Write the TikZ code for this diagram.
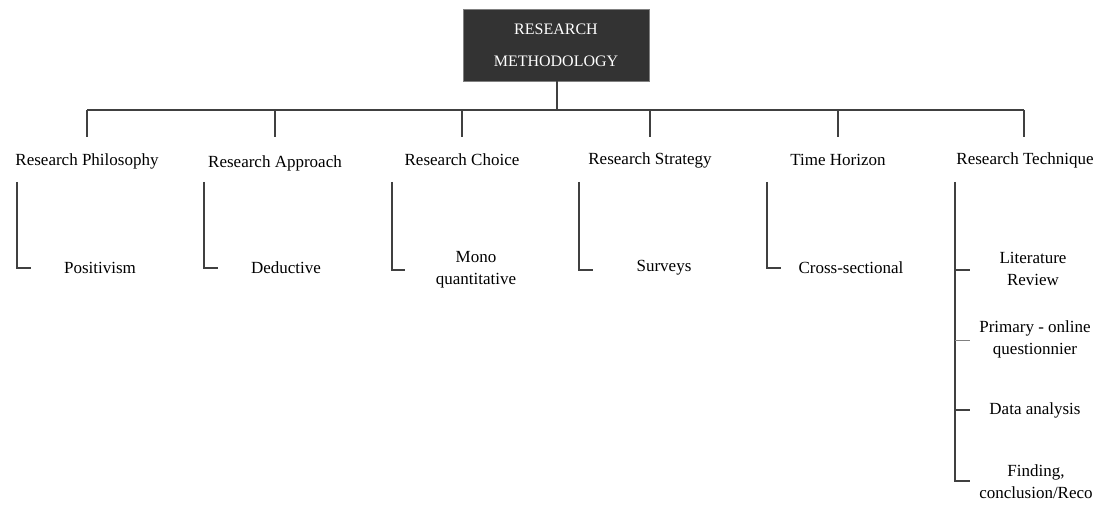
\documentclass[tikz,border=0pt]{standalone}
\usepackage{fontspec}
\setmainfont{Liberation Serif}
\definecolor{linec}{HTML}{404040}
\definecolor{boxc}{HTML}{333333}
\definecolor{thinc}{HTML}{808080}
\begin{document}
\begin{tikzpicture}[x=1pt,y=-1pt,
  conn/.style={draw=linec,line width=1.6pt},
  thin/.style={draw=thinc,line width=1pt},
  cat/.style={inner sep=0pt,font=\fontsize{17}{20}\selectfont,anchor=center},
  leaf/.style={inner sep=0pt,font=\fontsize{17}{22}\selectfont,align=center,anchor=center},
  topbox/.style={fill=boxc,draw=gray,line width=0.6pt,minimum width=186pt,minimum height=72pt,
     text=white,align=center,font=\fontsize{16}{32}\selectfont}]
\useasboundingbox (0,0) rectangle (1105,505);
\node[topbox] (top) at (556,45) {RESEARCH\\METHODOLOGY};
\coordinate (bus) at (557,110);
\foreach \n/\x in {c1/87,c2/275,c3/462,c4/650,c5/838,c6/1024}{
  \coordinate (\n d) at (\x,137);
  \coordinate (\n b) at (\x,110);
}
\draw[conn] (top.south -| bus) -- (bus);
\draw[conn] (c1b) -- (c6b);
\foreach \n in {c1,c2,c3,c4,c5,c6}{\draw[conn] (\n b) -- (\n d);}
\node[cat] (c1) at (87,161) {Research Philosophy};
\node[cat] (c2) at (275,163) {Research Approach};
\node[cat] (c3) at (462,160) {Research Choice};
\node[cat] (c4) at (650,160) {Research Strategy};
\node[cat] (c5) at (838,160) {Time Horizon};
\node[cat] (c6) at (1025,160) {Research Technique};
% leaves
\node[leaf] (l1) at (100,268) {Positivism};
\node[leaf] (l2) at (286,268) {Deductive};
\node[leaf] (l3) at (476,270) {Mono\\quantitative};
\node[leaf] (l4) at (664,268) {Surveys};
\node[leaf] (l5) at (851,268) {Cross-sectional};
\node[leaf] (t1) at (1033,269) {Literature\\Review};
\node[leaf] (t2) at (1035,339) {Primary - online\\questionnier};
\node[leaf] (t3) at (1035,410) {Data analysis};
\node[leaf] (t4) at (1036,482) {Finding,\\conclusion/Reco};
% brackets
\draw[conn] (17,182) |- (31,268) coordinate (e1);
\draw[conn] (204,182) |- (218,268) coordinate (e2);
\draw[conn] (392,182) |- (405,270) coordinate (e3);
\draw[conn] (579,182) |- (593,270) coordinate (e4);
\draw[conn] (767,182) |- (781,268) coordinate (e5);
\coordinate (tv) at (955,182);
\draw[conn] (tv) |- (970,481) coordinate (e9);
\draw[conn] (955,270) -- (970,270) coordinate (e6);
\draw[thin] (955,340) -- (970,340) coordinate (e7);
\draw[conn] (955,410) -- (970,410) coordinate (e8);
\end{tikzpicture}
\end{document}
